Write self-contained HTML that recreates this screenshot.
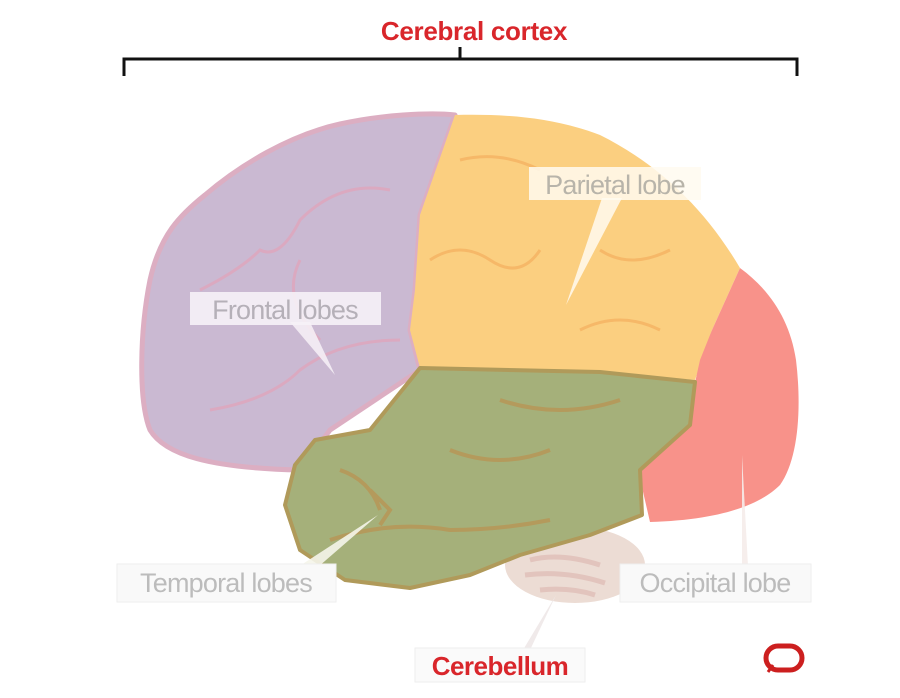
<!DOCTYPE html>
<html><head><meta charset="utf-8"><style>
html,body{margin:0;padding:0;background:#fff;}
svg{display:block;}
text{font-family:"Liberation Sans",Arial,sans-serif;}
</style></head><body>
<svg width="900" height="698" viewBox="0 0 900 698" xmlns="http://www.w3.org/2000/svg">
<rect width="900" height="698" fill="#fff"/>
<!-- bracket -->
<text x="474" y="40" text-anchor="middle" font-size="26" font-weight="bold" fill="#d9262b" letter-spacing="-0.3">Cerebral cortex</text>
<path d="M124,76 L124,59 L797,59 L797,76 M460,59 L460,47" fill="none" stroke="#111" stroke-width="3"/>
<!-- cerebellum -->
<ellipse cx="575" cy="565" rx="70" ry="38" fill="#ecdcd4"/>
<path d="M530,560 q30,-8 70,5 M525,575 q40,-5 80,8 M540,590 q30,-3 55,5" stroke="#e2c4bd" stroke-width="5" fill="none"/>
<!-- frontal -->
<path d="M455,115 C430,112 380,115 340,124 C290,135 240,165 205,195 C180,215 160,235 150,280 C140,330 138,400 150,430 C165,455 210,468 300,470 L330,430 L420,370 L410,330 L415,290 L420,215 Z" fill="#cab9d2" stroke="#dcaec2" stroke-width="5" stroke-linejoin="round"/>
<path d="M200,290 q40,-20 60,-40 q20,10 40,-30 q40,-40 90,-30 M300,260 q-20,40 20,80 M210,410 q60,-10 90,-40 q40,-30 100,-30" stroke="#dba9c0" stroke-width="3" fill="none"/>
<!-- parietal -->
<path d="M455,115 C500,114 550,116 600,135 C650,160 700,200 740,268 L712,330 L695,380 L600,372 L420,368 L410,330 L415,290 L420,215 Z" fill="#fbcf80"/>
<path d="M460,160 q40,-10 80,10 M430,260 q30,-20 60,0 q30,20 50,-10 M600,250 q30,20 70,0 M580,330 q40,-20 80,0" stroke="#f6b868" stroke-width="3" fill="none"/>
<!-- occipital -->
<path d="M740,268 C770,290 790,320 796,360 C802,410 798,460 780,485 C760,505 720,520 650,522 L638,470 L690,405 L700,360 L712,330 Z" fill="#f8928a"/>
<!-- temporal -->
<path d="M420,368 L600,372 L695,382 L690,425 L640,470 L642,515 L590,535 L520,555 L470,575 L410,588 L345,580 L300,550 L285,505 L295,465 L315,440 L370,430 Z" fill="#a5b07a" stroke="#b09a5a" stroke-width="4" stroke-linejoin="round"/>
<path d="M340,470 q30,10 40,40 M450,450 q50,20 100,0 M500,400 q60,20 120,0 M330,540 q60,-20 120,-10 q50,0 100,-10 M370,490 l20,20 l-10,15" stroke="#b49a5c" stroke-width="4" fill="none"/>
<!-- pointers -->
<path d="M602,198 L622,198 L566,305 Z" fill="#fffaf0" opacity="0.85"/>
<path d="M290,322 L310,322 L335,375 Z" fill="#f5eef5" opacity="0.9"/>
<path d="M298,567 L318,567 L378,515 Z" fill="#f5f5ea" opacity="0.9"/>
<path d="M742,566 L748,566 L742,455 Z" fill="#f5ecea" opacity="0.9"/>
<path d="M523,650 L530,650 L556,595 Z" fill="#f0eaea"/>
<!-- labels -->
<rect x="529" y="167" width="172" height="33" fill="#fffaf0" opacity="0.85"/>
<text x="615" y="194" text-anchor="middle" font-size="27" fill="#b8b4aa" letter-spacing="-0.8">Parietal lobe</text>
<rect x="190" y="292" width="191" height="33" fill="#f6f2f7" opacity="0.9"/>
<text x="285" y="319" text-anchor="middle" font-size="27" fill="#b5b0b8" letter-spacing="-0.8">Frontal lobes</text>
<rect x="117" y="564" width="219" height="38" fill="#f9f9f9" stroke="#eee"/>
<text x="226" y="592" text-anchor="middle" font-size="27" fill="#bcbcbc" letter-spacing="-0.8">Temporal lobes</text>
<rect x="620" y="564" width="191" height="38" fill="#f9f9f9" stroke="#eee"/>
<text x="715" y="592" text-anchor="middle" font-size="27" fill="#bcbcbc" letter-spacing="-0.8">Occipital lobe</text>
<rect x="415" y="648" width="170" height="34" fill="#fafafa" stroke="#eee"/>
<text x="500" y="675" text-anchor="middle" font-size="26" font-weight="bold" fill="#d9262b" letter-spacing="-0.5">Cerebellum</text>
<!-- logo -->
<path d="M768,672 l5,-7" stroke="#cc1f1f" stroke-width="3"/>
<rect x="766" y="646" width="36" height="24" rx="12" fill="none" stroke="#cc1f1f" stroke-width="5"/>
</svg>
</body></html>
